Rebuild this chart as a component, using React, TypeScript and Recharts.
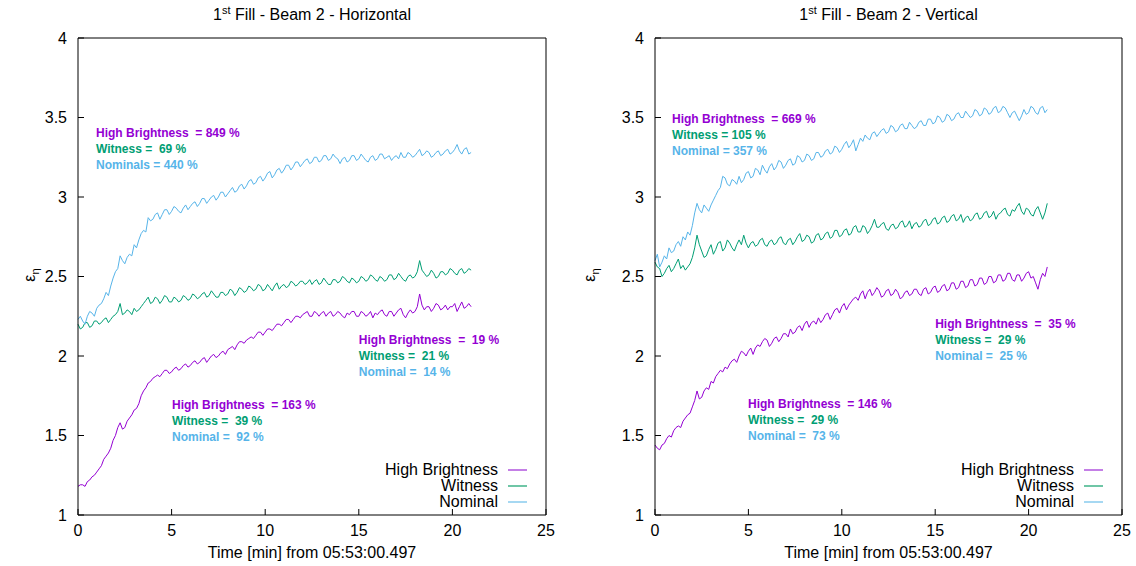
import React from 'react';
import { LineChart, Line, XAxis, YAxis, ReferenceDot } from 'recharts';

const TIME = [
  0, 0.125, 0.25, 0.375, 0.5, 0.625, 0.75, 0.875,
  1, 1.125, 1.25, 1.375, 1.5, 1.625, 1.75, 1.875,
  2, 2.125, 2.25, 2.375, 2.5, 2.625, 2.75, 2.875,
  3, 3.125, 3.25, 3.375, 3.5, 3.625, 3.75, 3.875,
  4, 4.125, 4.25, 4.375, 4.5, 4.625, 4.75, 4.875,
  5, 5.125, 5.25, 5.375, 5.5, 5.625, 5.75, 5.875,
  6, 6.125, 6.25, 6.375, 6.5, 6.625, 6.75, 6.875,
  7, 7.125, 7.25, 7.375, 7.5, 7.625, 7.75, 7.875,
  8, 8.125, 8.25, 8.375, 8.5, 8.625, 8.75, 8.875,
  9, 9.125, 9.25, 9.375, 9.5, 9.625, 9.75, 9.875,
  10, 10.125, 10.25, 10.375, 10.5, 10.625, 10.75, 10.875,
  11, 11.125, 11.25, 11.375, 11.5, 11.625, 11.75, 11.875,
  12, 12.125, 12.25, 12.375, 12.5, 12.625, 12.75, 12.875,
  13, 13.125, 13.25, 13.375, 13.5, 13.625, 13.75, 13.875,
  14, 14.125, 14.25, 14.375, 14.5, 14.625, 14.75, 14.875,
  15, 15.125, 15.25, 15.375, 15.5, 15.625, 15.75, 15.875,
  16, 16.125, 16.25, 16.375, 16.5, 16.625, 16.75, 16.875,
  17, 17.125, 17.25, 17.375, 17.5, 17.625, 17.75, 17.875,
  18, 18.125, 18.25, 18.375, 18.5, 18.625, 18.75, 18.875,
  19, 19.125, 19.25, 19.375, 19.5, 19.625, 19.75, 19.875,
  20, 20.125, 20.25, 20.375, 20.5, 20.625, 20.75, 20.875,
  21,
];

// Left panel (Horizontal)
const H_NOMINAL = [
  2.23, 2.25, 2.22, 2.20, 2.25, 2.28, 2.27, 2.25, 2.30, 2.32, 2.33, 2.36, 2.40, 2.38, 2.44, 2.49,
  2.53, 2.55, 2.63, 2.60, 2.58, 2.62, 2.64, 2.63, 2.70, 2.68, 2.73, 2.77, 2.79, 2.78, 2.87, 2.85,
  2.86, 2.89, 2.90, 2.86, 2.89, 2.92, 2.92, 2.89, 2.91, 2.94, 2.93, 2.91, 2.90, 2.93, 2.95, 2.92,
  2.94, 2.96, 2.97, 2.94, 2.96, 2.99, 2.99, 2.96, 2.98, 3.00, 3.01, 2.98, 3.00, 3.03, 3.03, 3.00,
  3.02, 3.04, 3.06, 3.03, 3.04, 3.07, 3.08, 3.05, 3.07, 3.10, 3.11, 3.08, 3.09, 3.12, 3.13, 3.10,
  3.12, 3.15, 3.16, 3.12, 3.14, 3.17, 3.18, 3.15, 3.17, 3.20, 3.20, 3.17, 3.19, 3.22, 3.22, 3.19,
  3.21, 3.23, 3.24, 3.21, 3.22, 3.25, 3.25, 3.22, 3.23, 3.26, 3.26, 3.23, 3.24, 3.27, 3.25, 3.24,
  3.21, 3.24, 3.25, 3.22, 3.23, 3.26, 3.26, 3.23, 3.24, 3.27, 3.25, 3.23, 3.22, 3.25, 3.26, 3.23,
  3.24, 3.27, 3.27, 3.24, 3.25, 3.26, 3.23, 3.25, 3.26, 3.24, 3.28, 3.25, 3.25, 3.28, 3.27, 3.25,
  3.26, 3.28, 3.30, 3.26, 3.27, 3.29, 3.28, 3.25, 3.26, 3.28, 3.29, 3.26, 3.27, 3.29, 3.30, 3.27,
  3.28, 3.30, 3.33, 3.29, 3.27, 3.30, 3.31, 3.27, 3.28,
];
const H_WITNESS = [
  2.20, 2.17, 2.18, 2.21, 2.21, 2.18, 2.19, 2.22, 2.22, 2.20, 2.21, 2.23, 2.24, 2.21, 2.23, 2.25,
  2.26, 2.28, 2.33, 2.26, 2.27, 2.29, 2.28, 2.26, 2.30, 2.28, 2.29, 2.31, 2.33, 2.35, 2.37, 2.33,
  2.34, 2.37, 2.36, 2.33, 2.35, 2.38, 2.37, 2.34, 2.34, 2.37, 2.36, 2.34, 2.35, 2.38, 2.37, 2.35,
  2.36, 2.39, 2.38, 2.36, 2.37, 2.39, 2.40, 2.37, 2.38, 2.41, 2.39, 2.37, 2.37, 2.40, 2.40, 2.38,
  2.39, 2.42, 2.41, 2.38, 2.40, 2.43, 2.42, 2.40, 2.41, 2.44, 2.43, 2.41, 2.42, 2.45, 2.44, 2.41,
  2.42, 2.45, 2.43, 2.41, 2.44, 2.46, 2.42, 2.44, 2.45, 2.43, 2.44, 2.47, 2.46, 2.44, 2.45, 2.47,
  2.47, 2.45, 2.46, 2.48, 2.45, 2.47, 2.48, 2.45, 2.46, 2.49, 2.47, 2.45, 2.45, 2.48, 2.48, 2.46,
  2.47, 2.50, 2.49, 2.47, 2.46, 2.49, 2.48, 2.46, 2.47, 2.50, 2.49, 2.47, 2.48, 2.51, 2.50, 2.48,
  2.47, 2.50, 2.49, 2.47, 2.48, 2.51, 2.51, 2.48, 2.49, 2.52, 2.50, 2.48, 2.47, 2.50, 2.51, 2.49,
  2.50, 2.53, 2.60, 2.54, 2.52, 2.50, 2.51, 2.54, 2.52, 2.49, 2.50, 2.53, 2.53, 2.51, 2.52, 2.55,
  2.54, 2.52, 2.51, 2.54, 2.55, 2.52, 2.53, 2.55, 2.54,
];
const H_HIGHBRIGHT = [
  1.18, 1.19, 1.19, 1.18, 1.21, 1.22, 1.24, 1.25, 1.27, 1.29, 1.31, 1.35, 1.37, 1.39, 1.42, 1.47,
  1.50, 1.55, 1.58, 1.54, 1.55, 1.59, 1.61, 1.63, 1.66, 1.67, 1.70, 1.75, 1.78, 1.80, 1.83, 1.84,
  1.86, 1.87, 1.88, 1.87, 1.89, 1.91, 1.91, 1.89, 1.90, 1.92, 1.93, 1.91, 1.92, 1.94, 1.95, 1.93,
  1.94, 1.96, 1.97, 1.95, 1.96, 1.98, 1.99, 1.96, 1.98, 2.00, 2.01, 1.99, 2.00, 2.02, 2.03, 2.01,
  2.04, 2.05, 2.06, 2.04, 2.07, 2.09, 2.09, 2.08, 2.10, 2.11, 2.12, 2.11, 2.13, 2.15, 2.15, 2.13,
  2.15, 2.17, 2.17, 2.16, 2.18, 2.20, 2.20, 2.19, 2.21, 2.23, 2.23, 2.21, 2.23, 2.25, 2.25, 2.24,
  2.26, 2.27, 2.28, 2.25, 2.25, 2.28, 2.27, 2.25, 2.27, 2.28, 2.25, 2.27, 2.28, 2.25, 2.26, 2.28,
  2.27, 2.25, 2.24, 2.27, 2.26, 2.28, 2.28, 2.25, 2.25, 2.28, 2.27, 2.25, 2.26, 2.28, 2.24, 2.27,
  2.26, 2.28, 2.29, 2.26, 2.25, 2.28, 2.28, 2.25, 2.27, 2.29, 2.30, 2.26, 2.24, 2.27, 2.29, 2.27,
  2.28, 2.31, 2.39, 2.32, 2.29, 2.31, 2.31, 2.28, 2.30, 2.33, 2.32, 2.29, 2.30, 2.32, 2.29, 2.31,
  2.31, 2.33, 2.28, 2.31, 2.34, 2.30, 2.31, 2.33, 2.31,
];

// Right panel (Vertical)
const V_NOMINAL = [
  2.60, 2.64, 2.56, 2.59, 2.63, 2.61, 2.68, 2.65, 2.66, 2.70, 2.72, 2.69, 2.75, 2.73, 2.78, 2.76,
  2.82, 2.90, 2.96, 2.92, 2.90, 2.95, 2.93, 2.91, 2.95, 2.98, 3.01, 3.04, 3.06, 3.13, 3.12, 3.08,
  3.07, 3.11, 3.10, 3.08, 3.13, 3.09, 3.11, 3.15, 3.16, 3.12, 3.13, 3.18, 3.17, 3.14, 3.20, 3.17,
  3.15, 3.19, 3.21, 3.17, 3.19, 3.23, 3.22, 3.18, 3.20, 3.23, 3.24, 3.20, 3.21, 3.26, 3.25, 3.22,
  3.23, 3.27, 3.26, 3.23, 3.24, 3.28, 3.28, 3.25, 3.26, 3.29, 3.30, 3.27, 3.28, 3.32, 3.31, 3.28,
  3.30, 3.33, 3.35, 3.31, 3.33, 3.36, 3.29, 3.33, 3.37, 3.35, 3.39, 3.37, 3.36, 3.40, 3.41, 3.38,
  3.40, 3.42, 3.43, 3.40, 3.41, 3.45, 3.44, 3.41, 3.42, 3.45, 3.46, 3.43, 3.43, 3.47, 3.45, 3.43,
  3.44, 3.47, 3.48, 3.45, 3.45, 3.49, 3.49, 3.46, 3.47, 3.51, 3.50, 3.47, 3.48, 3.52, 3.51, 3.48,
  3.49, 3.52, 3.53, 3.50, 3.50, 3.54, 3.52, 3.50, 3.51, 3.55, 3.54, 3.51, 3.52, 3.56, 3.55, 3.52,
  3.53, 3.56, 3.57, 3.53, 3.54, 3.57, 3.56, 3.53, 3.50, 3.53, 3.54, 3.51, 3.48, 3.51, 3.55, 3.52,
  3.53, 3.57, 3.56, 3.53, 3.52, 3.56, 3.57, 3.53, 3.55,
];
const V_WITNESS = [
  2.59, 2.56, 2.55, 2.50, 2.52, 2.55, 2.57, 2.53, 2.55, 2.58, 2.61, 2.55, 2.57, 2.54, 2.56, 2.58,
  2.62, 2.68, 2.76, 2.70, 2.66, 2.62, 2.63, 2.67, 2.70, 2.64, 2.67, 2.71, 2.72, 2.66, 2.68, 2.73,
  2.71, 2.68, 2.66, 2.70, 2.73, 2.70, 2.76, 2.71, 2.68, 2.71, 2.72, 2.69, 2.70, 2.73, 2.74, 2.70,
  2.69, 2.72, 2.73, 2.70, 2.71, 2.74, 2.75, 2.71, 2.70, 2.73, 2.74, 2.70, 2.72, 2.75, 2.77, 2.72,
  2.73, 2.76, 2.75, 2.71, 2.72, 2.76, 2.77, 2.73, 2.74, 2.77, 2.78, 2.74, 2.75, 2.79, 2.79, 2.75,
  2.76, 2.79, 2.80, 2.76, 2.77, 2.81, 2.82, 2.78, 2.78, 2.82, 2.81, 2.77, 2.79, 2.82, 2.86, 2.81,
  2.81, 2.83, 2.84, 2.80, 2.79, 2.82, 2.83, 2.80, 2.81, 2.84, 2.85, 2.81, 2.82, 2.85, 2.80, 2.83,
  2.84, 2.81, 2.82, 2.85, 2.86, 2.82, 2.83, 2.86, 2.87, 2.83, 2.84, 2.87, 2.88, 2.84, 2.85, 2.88,
  2.89, 2.85, 2.86, 2.89, 2.84, 2.87, 2.88, 2.85, 2.86, 2.89, 2.90, 2.86, 2.87, 2.90, 2.91, 2.87,
  2.88, 2.91, 2.86, 2.89, 2.90, 2.92, 2.93, 2.89, 2.88, 2.92, 2.91, 2.94, 2.96, 2.91, 2.89, 2.93,
  2.92, 2.89, 2.88, 2.92, 2.94, 2.90, 2.86, 2.90, 2.96,
];
const V_HIGHBRIGHT = [
  1.44, 1.42, 1.41, 1.44, 1.45, 1.48, 1.50, 1.49, 1.53, 1.55, 1.56, 1.55, 1.59, 1.61, 1.63, 1.64,
  1.68, 1.72, 1.78, 1.73, 1.74, 1.78, 1.80, 1.79, 1.84, 1.83, 1.87, 1.89, 1.91, 1.90, 1.93, 1.92,
  1.95, 1.97, 1.98, 1.96, 2.00, 2.03, 2.02, 2.00, 2.03, 2.05, 2.01, 2.05, 2.07, 2.06, 2.09, 2.11,
  2.10, 2.06, 2.08, 2.11, 2.12, 2.09, 2.11, 2.14, 2.14, 2.12, 2.17, 2.14, 2.15, 2.18, 2.19, 2.16,
  2.20, 2.22, 2.18, 2.21, 2.22, 2.20, 2.24, 2.21, 2.23, 2.26, 2.27, 2.23, 2.26, 2.29, 2.30, 2.27,
  2.31, 2.33, 2.29, 2.32, 2.34, 2.36, 2.37, 2.35, 2.39, 2.41, 2.36, 2.40, 2.42, 2.38, 2.40, 2.43,
  2.41, 2.37, 2.38, 2.41, 2.42, 2.38, 2.39, 2.42, 2.40, 2.36, 2.37, 2.40, 2.41, 2.38, 2.39, 2.42,
  2.42, 2.39, 2.38, 2.42, 2.43, 2.39, 2.40, 2.43, 2.44, 2.40, 2.41, 2.44, 2.45, 2.41, 2.42, 2.46,
  2.46, 2.42, 2.43, 2.47, 2.47, 2.43, 2.44, 2.48, 2.48, 2.44, 2.45, 2.49, 2.49, 2.45, 2.46, 2.50,
  2.50, 2.46, 2.47, 2.51, 2.51, 2.47, 2.48, 2.52, 2.52, 2.48, 2.47, 2.51, 2.51, 2.47, 2.49, 2.52,
  2.53, 2.49, 2.50, 2.46, 2.42, 2.48, 2.52, 2.50, 2.56,
];

const X_TICKS = [0, 5, 10, 15, 20, 25];
const Y_TICKS = [1, 1.5, 2, 2.5, 3, 3.5, 4];
const SERIES_NAMES = ['High Brightness', 'Witness', 'Nominal'];

const H_NOTES = [
  { t: 0.96, v: 3.4, lines: ['High Brightness  = 849 %', 'Witness =  69 %', 'Nominals = 440 %'] },
  { t: 15.0, v: 2.1, lines: ['High Brightness  =  19 %', 'Witness =  21 %', 'Nominal =  14 %'] },
  { t: 5.02, v: 1.69, lines: ['High Brightness  = 163 %', 'Witness =  39 %', 'Nominal =  92 %'] },
];
const V_NOTES = [
  { t: 0.91, v: 3.49, lines: ['High Brightness  = 669 %', 'Witness = 105 %', 'Nominal = 357 %'] },
  { t: 15.0, v: 2.2, lines: ['High Brightness  =  35 %', 'Witness =  29 %', 'Nominal =  25 %'] },
  { t: 4.98, v: 1.7, lines: ['High Brightness  = 146 %', 'Witness =  29 %', 'Nominal =  73 %'] },
];

const COLORS = ['#9400D3', '#009E73', '#56B4E9'];
const LEGEND_COLORS = ['#C47FE6', '#6FC6A6', '#A6D8F2'];
const FONT = '"Liberation Sans", Arial, Helvetica, sans-serif';

const buildData = (hb: number[], w: number[], n: number[]) =>
  TIME.map((t, i) => ({ t, hb: hb[i], w: w[i], n: n[i] }));

const AnnoBlock = (props: any) => {
  const vb = props.viewBox || {};
  const x = (vb.x || 0) + (vb.width || 0) / 2;
  const y = (vb.y || 0) + (vb.height || 0) / 2;
  return (
    <g>
      {props.lines.map((s: string, i: number) => (
        <text
          key={i}
          x={x}
          y={y + i * 16}
          dominantBaseline="central"
          fill={COLORS[i]}
          fontWeight="bold"
          fontSize={12}
          fontFamily={FONT}
          style={{ whiteSpace: 'pre' }}
        >
          {s}
        </text>
      ))}
    </g>
  );
};

type PanelProps = {
  offset: number;
  plotLeft: number;
  plotRightGap: number;
  title: string;
  data: any[];
  notes: { t: number; v: number; lines: string[] }[];
  yLabelX: number;
};

const W = 568;
const H = 566;

const Panel = ({ offset, plotLeft, plotRightGap, title, data, notes, yLabelX }: PanelProps) => {
  const plotRight = W - plotRightGap;
  const plotCenter = (plotLeft + plotRight) / 2;
  return (
    <div style={{ position: 'absolute', left: offset, top: 0, width: W, height: H }}>
      <LineChart
        width={W}
        height={H}
        data={data}
        margin={{ top: 30, right: plotRightGap - 6, bottom: 21, left: plotLeft - 40 }}
        style={{ overflow: 'visible' }}
      >
        <XAxis
          dataKey="t"
          type="number"
          domain={[0, 25]}
          ticks={X_TICKS}
          height={30}
          tickSize={-6}
          tickMargin={16}
          stroke="#000"
          tick={{ fill: '#000', fontSize: 16, fontFamily: FONT }}
          interval={0}
        />
        <XAxis
          xAxisId="top"
          orientation="top"
          dataKey="t"
          type="number"
          domain={[0, 25]}
          ticks={X_TICKS}
          height={8}
          tickSize={-6}
          tick={false}
          stroke="#000"
          interval={0}
        />
        <YAxis
          type="number"
          domain={[1, 4]}
          ticks={Y_TICKS}
          width={40}
          tickSize={-6}
          tickMargin={17}
          stroke="#000"
          tick={{ fill: '#000', fontSize: 16, fontFamily: FONT }}
          interval={0}
        />
        <YAxis
          yAxisId="r"
          orientation="right"
          type="number"
          domain={[1, 4]}
          ticks={Y_TICKS}
          width={6}
          tickSize={-6}
          tick={false}
          stroke="#000"
          interval={0}
        />
        <Line dataKey="hb" stroke={COLORS[0]} strokeWidth={1} dot={false} isAnimationActive={false} />
        <Line dataKey="w" stroke={COLORS[1]} strokeWidth={1} dot={false} isAnimationActive={false} />
        <Line dataKey="n" stroke={COLORS[2]} strokeWidth={1} dot={false} isAnimationActive={false} />
        {notes.map((nt, i) => (
          <ReferenceDot
            key={i}
            x={nt.t}
            y={nt.v}
            r={1}
            fill="none"
            stroke="none"
            label={(p: any) => <AnnoBlock {...p} lines={nt.lines} />}
          />
        ))}
      </LineChart>
      {/* title */}
      <div
        style={{
          position: 'absolute',
          left: plotCenter - 200,
          width: 400,
          top: 5,
          textAlign: 'center',
          fontSize: 16,
          lineHeight: '20px',
          fontFamily: FONT,
          color: '#000',
        }}
      >
        1<sup style={{ fontSize: 11, lineHeight: 0, verticalAlign: 'super' }}>st</sup> {title}
      </div>
      {/* x axis title */}
      <div
        style={{
          position: 'absolute',
          left: plotCenter - 200,
          width: 400,
          top: 543,
          textAlign: 'center',
          fontSize: 16,
          lineHeight: '20px',
          fontFamily: FONT,
          color: '#000',
        }}
      >
        Time [min] from 05:53:00.497
      </div>
      {/* y axis label */}
      <div
        style={{
          position: 'absolute',
          left: yLabelX - 30,
          top: 264,
          width: 60,
          height: 22,
          textAlign: 'center',
          fontSize: 16,
          lineHeight: '22px',
          fontFamily: FONT,
          color: '#000',
          transform: 'rotate(-90deg)',
        }}
      >
        ε<sub style={{ fontSize: 11, lineHeight: 0 }}>η</sub>
      </div>
      {/* legend */}
      {SERIES_NAMES.map((name, i) => (
        <div
          key={name}
          style={{
            position: 'absolute',
            left: plotRight - 250,
            width: 250,
            top: 460 + i * 16,
            height: 20,
            fontFamily: FONT,
            fontSize: 16,
            lineHeight: '20px',
            color: '#000',
          }}
        >
          <span style={{ position: 'absolute', right: 48, top: 0, whiteSpace: 'nowrap' }}>{name}</span>
          <span
            style={{
              position: 'absolute',
              right: 19,
              top: 9,
              width: 19,
              height: 2,
              background: LEGEND_COLORS[i],
            }}
          />
        </div>
      ))}
    </div>
  );
};

export default function App() {
  const hData = buildData(H_HIGHBRIGHT, H_WITNESS, H_NOMINAL);
  const vData = buildData(V_HIGHBRIGHT, V_WITNESS, V_NOMINAL);
  return (
    <div
      style={{
        position: 'relative',
        width: 1136,
        height: 566,
        background: '#fff',
        fontFamily: FONT,
      }}
    >
      <style>{'html,body{margin:0;padding:0;overflow:hidden;background:#fff}'}</style>
      <Panel
        offset={0}
        plotLeft={78}
        plotRightGap={22}
        title="Fill - Beam 2 - Horizontal"
        data={hData}
        notes={H_NOTES}
        yLabelX={30}
      />
      <Panel
        offset={568}
        plotLeft={87}
        plotRightGap={14}
        title="Fill - Beam 2 - Vertical"
        data={vData}
        notes={V_NOTES}
        yLabelX={22}
      />
    </div>
  );
}
